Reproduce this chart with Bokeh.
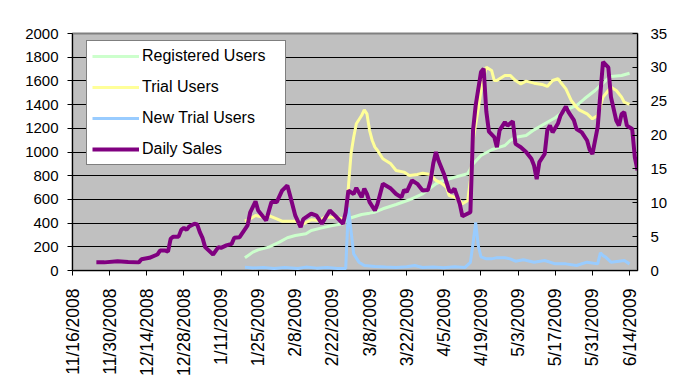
import math
import pandas as pd
from bokeh.plotting import figure
from bokeh.models import Range1d, LinearAxis, FixedTicker, Legend, LegendItem
from bokeh.embed import file_html
from bokeh.resources import INLINE

start_date = "11/16/2008"
end_date = "6/17/2009"

tick_labels = ["11/16/2008", "11/30/2008", "12/14/2008", "12/28/2008", "1/11/2009",
               "1/25/2009", "2/8/2009", "2/22/2009", "3/8/2009", "3/22/2009",
               "4/5/2009", "4/19/2009", "5/3/2009", "5/17/2009", "5/31/2009", "6/14/2009"]
left_ticks = [0, 200, 400, 600, 800, 1000, 1200, 1400, 1600, 1800, 2000]
right_ticks = [0, 5, 10, 15, 20, 25, 30, 35]

registered_dates = ["1/20/2009", "1/23/2009", "1/25/2009", "1/29/2009", "2/2/2009", "2/5/2009",
                    "2/8/2009", "2/12/2009", "2/14/2009", "2/18/2009", "2/22/2009", "2/26/2009",
                    "3/1/2009", "3/5/2009", "3/8/2009", "3/10/2009", "3/13/2009", "3/18/2009",
                    "3/23/2009", "3/28/2009", "4/2/2009", "4/5/2009", "4/9/2009", "4/14/2009",
                    "4/16/2009", "4/19/2009", "4/23/2009", "4/26/2009", "4/28/2009", "4/30/2009",
                    "5/2/2009", "5/6/2009", "5/9/2009", "5/13/2009", "5/17/2009", "5/21/2009",
                    "5/25/2009", "5/28/2009", "6/1/2009", "6/5/2009", "6/7/2009", "6/11/2009",
                    "6/14/2009"]
registered_users = [107, 155, 174, 197, 239, 276, 295, 310, 338, 360, 380, 394,
                    445, 473, 484, 492, 521, 557, 597, 647, 732, 760, 787, 816,
                    900, 970, 1019, 1041, 1055, 1097, 1125, 1139, 1187, 1238, 1289, 1356,
                    1392, 1449, 1519, 1603, 1637, 1646, 1665]

trial_dates = ["1/20/2009", "1/22/2009", "1/24/2009", "1/27/2009", "1/29/2009", "2/1/2009",
               "2/3/2009", "2/8/2009", "2/11/2009", "2/14/2009", "2/17/2009", "2/19/2009",
               "2/23/2009", "2/26/2009", "2/27/2009", "2/28/2009", "3/1/2009", "3/2/2009",
               "3/3/2009", "3/5/2009", "3/6/2009", "3/7/2009", "3/8/2009", "3/9/2009",
               "3/10/2009", "3/11/2009", "3/13/2009", "3/16/2009", "3/18/2009", "3/21/2009",
               "3/23/2009", "3/26/2009", "3/28/2009", "3/31/2009", "4/2/2009", "4/4/2009",
               "4/6/2009", "4/7/2009", "4/9/2009", "4/11/2009", "4/12/2009", "4/14/2009",
               "4/15/2009", "4/16/2009", "4/18/2009", "4/19/2009", "4/20/2009", "4/21/2009",
               "4/23/2009", "4/24/2009", "4/25/2009", "4/26/2009", "4/28/2009", "4/30/2009",
               "5/2/2009", "5/4/2009", "5/6/2009", "5/9/2009", "5/12/2009", "5/14/2009",
               "5/16/2009", "5/18/2009", "5/19/2009", "5/21/2009", "5/23/2009", "5/25/2009",
               "5/26/2009", "5/29/2009", "5/31/2009", "6/2/2009", "6/4/2009", "6/6/2009",
               "6/7/2009", "6/9/2009", "6/11/2009", "6/12/2009", "6/14/2009"]
trial_users = [416, 436, 464, 450, 464, 436,
               416, 416, 394, 428, 422, 450,
               450, 436, 450, 703, 985, 1125,
               1238, 1308, 1356, 1322, 1181, 1097,
               1041, 1013, 943, 900, 844, 830,
               802, 810, 821, 810, 760, 737,
               703, 633, 619, 591, 563, 591,
               760, 1097, 1370, 1519, 1631, 1716,
               1688, 1603, 1603, 1618, 1645, 1646,
               1603, 1575, 1598, 1581, 1570, 1553,
               1603, 1618, 1589, 1533, 1435, 1378,
               1356, 1322, 1280, 1308, 1463, 1519,
               1547, 1519, 1463, 1420, 1401]

new_trial_dates = ["1/20/2009", "1/23/2009", "1/27/2009", "1/31/2009", "2/4/2009", "2/9/2009",
                   "2/12/2009", "2/16/2009", "2/20/2009", "2/24/2009", "2/27/2009", "2/28/2009",
                   "3/1/2009", "3/2/2009", "3/4/2009", "3/6/2009", "3/10/2009", "3/14/2009",
                   "3/18/2009", "3/22/2009", "3/25/2009", "3/28/2009", "4/1/2009", "4/5/2009",
                   "4/9/2009", "4/13/2009", "4/15/2009", "4/16/2009", "4/17/2009", "4/18/2009",
                   "4/19/2009", "4/21/2009", "4/23/2009", "4/25/2009", "4/28/2009", "4/30/2009",
                   "5/2/2009", "5/5/2009", "5/9/2009", "5/13/2009", "5/17/2009", "5/21/2009",
                   "5/25/2009", "5/29/2009", "6/2/2009", "6/3/2009", "6/4/2009", "6/5/2009",
                   "6/7/2009", "6/10/2009", "6/12/2009", "6/14/2009"]
new_trial_users = [0.49, 0.37, 0.45, 0.3, 0.45, 0.3,
                   0.5, 0.35, 0.45, 0.3, 0.3, 9.3,
                   5.9, 2.46, 1.23, 0.74, 0.59, 0.5,
                   0.45, 0.55, 0.74, 0.45, 0.5, 0.4,
                   0.55, 0.45, 1.2, 4.0, 7.1, 3.6,
                   2.0, 1.72, 1.72, 1.9, 1.87, 1.72,
                   1.38, 1.58, 1.23, 1.48, 0.98, 0.98,
                   0.74, 1.23, 0.98, 2.6, 2.2, 1.97,
                   1.23, 1.38, 1.48, 0.98]

sales_dates = ["11/25/2008", "11/28/2008", "12/3/2008", "12/7/2008", "12/11/2008", "12/12/2008",
               "12/15/2008", "12/18/2008", "12/19/2008", "12/21/2008", "12/22/2008", "12/23/2008",
               "12/24/2008", "12/26/2008", "12/27/2008", "12/28/2008", "12/29/2008", "12/30/2008",
               "1/1/2009", "1/2/2009", "1/3/2009", "1/4/2009", "1/5/2009", "1/8/2009",
               "1/10/2009", "1/11/2009", "1/13/2009", "1/15/2009", "1/16/2009", "1/18/2009",
               "1/21/2009", "1/22/2009", "1/24/2009", "1/25/2009", "1/28/2009", "1/30/2009",
               "2/1/2009", "2/3/2009", "2/5/2009", "2/6/2009", "2/8/2009", "2/10/2009",
               "2/11/2009", "2/14/2009", "2/16/2009", "2/18/2009", "2/21/2009", "2/23/2009",
               "2/26/2009", "2/27/2009", "2/28/2009", "3/2/2009", "3/3/2009", "3/5/2009",
               "3/6/2009", "3/7/2009", "3/8/2009", "3/10/2009", "3/11/2009", "3/13/2009",
               "3/16/2009", "3/18/2009", "3/20/2009", "3/21/2009", "3/22/2009", "3/24/2009",
               "3/26/2009", "3/28/2009", "3/30/2009", "3/31/2009", "4/1/2009", "4/2/2009",
               "4/3/2009", "4/5/2009", "4/7/2009", "4/8/2009", "4/9/2009", "4/11/2009",
               "4/12/2009", "4/15/2009", "4/16/2009", "4/17/2009", "4/19/2009", "4/20/2009",
               "4/21/2009", "4/22/2009", "4/24/2009", "4/25/2009", "4/26/2009", "4/28/2009",
               "4/29/2009", "5/1/2009", "5/2/2009", "5/4/2009", "5/6/2009", "5/8/2009",
               "5/9/2009", "5/10/2009", "5/11/2009", "5/13/2009", "5/14/2009", "5/15/2009",
               "5/16/2009", "5/18/2009", "5/19/2009", "5/21/2009", "5/22/2009", "5/24/2009",
               "5/25/2009", "5/27/2009", "5/29/2009", "5/30/2009", "5/31/2009", "6/2/2009",
               "6/3/2009", "6/4/2009", "6/6/2009", "6/7/2009", "6/9/2009", "6/10/2009",
               "6/11/2009", "6/12/2009", "6/13/2009", "6/15/2009", "6/16/2009", "6/17/2009"]
daily_sales = [1.2, 1.2, 1.35, 1.25, 1.2, 1.67,
               1.87, 2.36, 2.95, 2.95, 2.8, 4.68,
               5.0, 5.0, 6.0, 6.3, 6.0, 6.5,
               6.9, 6.8, 5.66, 4.83, 3.45, 2.36,
               3.45, 3.35, 3.7, 3.94, 4.83, 4.92,
               6.65, 8.6, 10.2, 8.86, 7.4, 10.1,
               10.1, 11.8, 12.55, 11.1, 8.1, 6.4,
               7.6, 8.4, 8.1, 6.9, 8.86, 8.1,
               6.9, 8.6, 11.8, 11.3, 12.2, 10.8,
               12.1, 11.3, 10.1, 8.86, 9.85, 12.8,
               12.1, 11.3, 10.8, 11.9, 11.6, 13.3,
               12.8, 11.8, 11.9, 13.3, 15.8, 17.5,
               16.2, 14.3, 11.8, 11.6, 12.1, 9.85,
               8.0, 8.6, 20.7, 24.4, 29.3, 29.8,
               23.5, 20.5, 19.7, 18.2, 20.7, 21.9,
               21.4, 22.05, 18.7, 18.2, 17.5, 16.5,
               15.5, 13.5, 16.0, 17.2, 20.7, 21.4,
               20.4, 21.7, 22.9, 24.2, 23.4, 22.2,
               20.9, 20.4, 19.2, 17.8, 17.2, 21.2,
               26.1, 30.8, 30.0, 25.6, 22.15, 21.4,
               23.1, 23.4, 21.4, 20.9, 16.7, 14.8]


def days(ds):
    t = pd.to_datetime(ds, format="%m/%d/%Y") - pd.to_datetime(start_date, format="%m/%d/%Y")
    return [float(v) for v in t.days]


FONT = "Liberation Sans"

p = figure(width=687, height=387, output_backend="svg", toolbar_location=None,
           x_range=Range1d(0, days([end_date])[0]), y_range=Range1d(0, 2000),
           min_border_left=72, min_border_right=50, min_border_top=33, min_border_bottom=117)
p.extra_y_ranges = {"right": Range1d(0, 35)}

p.background_fill_color = "#C0C0C0"
p.border_fill_color = "white"
p.outline_line_color = "#808080"
p.outline_line_width = 2

p.xgrid.visible = False
p.ygrid.ticker = FixedTicker(ticks=left_ticks)
p.ygrid.grid_line_color = "black"
p.ygrid.grid_line_width = 1

# left axis
ly = p.yaxis[0]
ly.ticker = FixedTicker(ticks=left_ticks)
ly.major_tick_out = 5
ly.major_tick_in = 0
ly.minor_tick_line_color = None
ly.major_label_standoff = 9
ly.axis_line_color = "black"

# bottom axis
tick_days = days(tick_labels)
bx = p.xaxis[0]
bx.ticker = FixedTicker(ticks=tick_days)
bx.major_label_overrides = {d: lbl for d, lbl in zip(tick_days, tick_labels)}
bx.major_label_orientation = math.pi / 2
bx.major_tick_out = 5
bx.major_tick_in = 0
bx.minor_tick_line_color = None
bx.major_label_standoff = 13
bx.axis_line_color = "black"

# right axis
ry = LinearAxis(y_range_name="right", ticker=FixedTicker(ticks=right_ticks))
ry.major_tick_in = 5
ry.major_tick_out = 0
ry.minor_tick_line_color = None
ry.major_label_standoff = 13
ry.axis_line_color = "black"
p.add_layout(ry, "right")

for ax in [ly, bx, ry]:
    ax.major_label_text_font = FONT
    ax.major_label_text_font_size = "15px"
    ax.major_label_text_color = "black"
    ax.major_tick_line_color = "black"
bx.major_label_text_font_size = "17.5px"

r_reg = p.line(days(registered_dates), registered_users, color="#CCFFCC", line_width=3)
r_trial = p.line(days(trial_dates), trial_users, color="#FFFF99", line_width=3)
r_new = p.line(days(new_trial_dates), new_trial_users, y_range_name="right",
               color="#99CCFF", line_width=3)
r_sales = p.line(days(sales_dates), daily_sales, y_range_name="right",
                 color="#800080", line_width=4)

legend = Legend(items=[LegendItem(label="Registered Users", renderers=[r_reg]),
                       LegendItem(label="Trial Users", renderers=[r_trial]),
                       LegendItem(label="New Trial Users", renderers=[r_new]),
                       LegendItem(label="Daily Sales", renderers=[r_sales])],
                location=(14, 105))
legend.border_line_color = "black"
legend.border_line_width = 1
legend.background_fill_color = "white"
legend.background_fill_alpha = 1
legend.label_text_font = FONT
legend.label_text_font_size = "16px"
legend.label_text_color = "black"
legend.glyph_width = 47
legend.glyph_height = 20
legend.label_height = 20
legend.label_width = 138
legend.spacing = 11
legend.padding = 5
legend.label_standoff = 3
legend.margin = 0
p.add_layout(legend)

open("out.html", "w").write(file_html(p, INLINE))
